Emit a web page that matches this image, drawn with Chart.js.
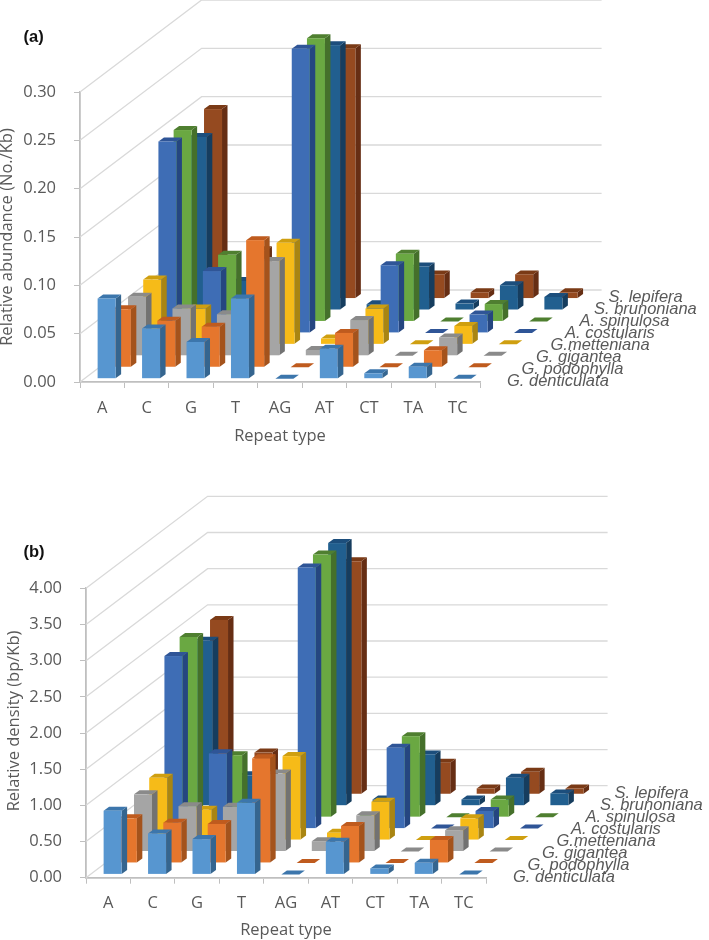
<!DOCTYPE html>
<html>
<head>
<meta charset="utf-8">
<script src="https://cdn.jsdelivr.net/npm/chart.js@4/dist/chart.umd.js"></script>
<style>
html,body{margin:0;padding:0;background:#fff;}
canvas{display:block;}
</style>
</head>
<body>
<canvas id="chartA" width="709" height="470"></canvas>
<canvas id="chartB" width="709" height="470"></canvas>
<script>
// ---------- Data ----------
const categories = ['A','C','G','T','AG','AT','CT','TA','TC'];
const seriesNames = ['G. denticulata','G. podophylla','G. gigantea','G.metteniana','A. costularis','A. spinulosa','S. brunoniana','S. lepifera'];

// (a) Relative abundance (No./Kb)
const abundDenticulata = [0.083,0.052,0.038,0.083,0,0.031,0.0056,0.0124,0];
const abundPodophylla  = [0.060,0.048,0.042,0.1315,0,0.0355,0,0.0176,0];
const abundGigantea    = [0.061,0.049,0.043,0.098,0.006,0.037,0,0.019,0];
const abundMetteniana  = [0.067,0.037,0.030,0.105,0.006,0.037,0,0.019,0];
const abundCostularis  = [0.198,0.064,0.045,0.294,0,0.070,0,0.019,0];
const abundSpinulosa   = [0.198,0.069,0.050,0.293,0,0.070,0,0.018,0];
const abundBrunoniana  = [0.179,0.030,0.040,0.274,0.006,0.045,0.0066,0.0256,0.0135];
const abundLepifera    = [0.196,0.050,0.040,0.259,0,0.025,0.0065,0.025,0.0065];

// (b) Relative density (bp/Kb)
const densDenticulata = [0.88,0.566,0.488,0.99,0,0.45,0.083,0.16,0];
const densPodophylla  = [0.617,0.557,0.539,1.446,0,0.511,0,0.318,0];
const densGigantea    = [0.79,0.626,0.617,1.077,0.143,0.50,0,0.295,0];
const densMetteniana  = [0.86,0.42,0.45,1.16,0.10,0.53,0,0.30,0];
const densCostularis  = [2.385,1.04,0.45,3.61,0,1.119,0,0.244,0];
const densSpinulosa   = [2.49,0.856,0.40,3.63,0,1.119,0,0.244,0];
const densBrunoniana  = [2.28,0.42,0.40,3.63,0.087,0.709,0.087,0.387,0.17];
const densLepifera    = [2.41,0.576,0.40,3.22,0,0.437,0.08,0.31,0.08];

// ---------- Styles ----------
const frontColors = ['#5796D0','#E5762D','#A5A5A5','#F6BB18','#3E6DB5','#6AA842','#215F8F','#954A20'];
const topColors   = ['#3C76AC','#BF5B1E','#8A8A8A','#CF9F10','#2F5597','#4F7F30','#1C4E7C','#7A3A16'];
const sideColors  = ['#35658F','#A4531C','#727272','#A98512','#254680','#45702B','#163D5E','#662E14'];

const ROW_DX = 15.2, ROW_DY = 11.45;     // shift per depth row
const LIP_DX = 4.4, LIP_DY = 3.3;        // gap from the front of the row slot
const BAR_W = 18, BAR_DX = 5.5, BAR_DY = 4;
const WALL_DX = 121.6, WALL_DY = 92;
const GRID = '#D9D9D9', AXIS = '#BFBFBF', TEXT = '#595959';
const FONT = '"Open Sans", sans-serif';

const bars3d = {
  id: 'bars3d',
  beforeDatasetsDraw(chart) {
    const {ctx, chartArea: area, scales: {y: yS}} = chart;
    const o = chart.options.plugins.bars3d;

    // walls: left-wall diagonals + back-wall lines for every y tick
    ctx.save();
    ctx.strokeStyle = GRID;
    ctx.lineWidth = 1.3;
    yS.ticks.forEach(t => {
      const py = yS.getPixelForValue(t.value);
      ctx.beginPath();
      ctx.moveTo(area.left, py);
      ctx.lineTo(area.left + WALL_DX, py - WALL_DY);
      ctx.lineTo(area.right + WALL_DX, py - WALL_DY);
      ctx.stroke();
    });
    ctx.restore();

    // bars: back row first
    const n = chart.data.datasets.length;
    for (let d = n - 1; d >= 0; d--) {
      const meta = chart.getDatasetMeta(d);
      const sx = LIP_DX + d * ROW_DX, sy = LIP_DY + d * ROW_DY;
      for (let i = meta.data.length - 1; i >= 0; i--) {
        const el = meta.data[i];
        const x0 = el.x - BAR_W / 2 + sx, x1 = x0 + BAR_W;
        const top = el.y - sy, base = el.base - sy;
        ctx.fillStyle = sideColors[d];
        ctx.beginPath();
        ctx.moveTo(x1, base); ctx.lineTo(x1 + BAR_DX, base - BAR_DY);
        ctx.lineTo(x1 + BAR_DX, top - BAR_DY); ctx.lineTo(x1, top);
        ctx.closePath(); ctx.fill();
        ctx.fillStyle = topColors[d];
        ctx.beginPath();
        ctx.moveTo(x0, top); ctx.lineTo(x1, top);
        ctx.lineTo(x1 + BAR_DX, top - BAR_DY); ctx.lineTo(x0 + BAR_DX, top - BAR_DY);
        ctx.closePath(); ctx.fill();
        if (base - top > 0.2) {
          ctx.fillStyle = frontColors[d];
          ctx.fillRect(x0, top, BAR_W, base - top);
        }
      }
    }

    // depth-axis labels
    ctx.save();
    ctx.fillStyle = TEXT;
    ctx.font = 'italic 16.5px "Liberation Sans", sans-serif';
    ctx.textAlign = 'left';
    ctx.textBaseline = 'alphabetic';
    chart.data.datasets.forEach((ds, d) => {
      ctx.fillText(ds.label, area.right + 27 + d * 14.5, area.bottom + 3.8 - d * 12);
    });
    // panel letter
    ctx.fillStyle = '#111';
    ctx.font = 'bold 16.5px "Liberation Sans", sans-serif';
    ctx.textBaseline = 'middle';
    ctx.fillText(o.panel, 23.5, o.panelY);
    // y-axis title
    ctx.translate(o.yTitleX, o.yTitleY);
    ctx.rotate(-Math.PI / 2);
    ctx.fillStyle = TEXT;
    ctx.font = '16.5px ' + FONT;
    ctx.textAlign = 'center';
    ctx.fillText(o.yTitle, 0, 0);
    ctx.restore();
    return false;
  }
};

function makeChart(id, series, cfg) {
  return new Chart(document.getElementById(id), {
    type: 'bar',
    plugins: [bars3d],
    data: {
      labels: categories,
      datasets: series.map((values, k) => ({
        label: seriesNames[k], data: values, backgroundColor: frontColors[k]
      }))
    },
    options: {
      responsive: false,
      animation: false,
      layout: {autoPadding: false, padding: {top: cfg.top, right: 709 - cfg.right, left: 0, bottom: 0}},
      datasets: {bar: {grouped: false, barThickness: BAR_W}},
      plugins: {
        legend: {display: false},
        tooltip: {enabled: false},
        bars3d: {panel: cfg.panel, panelY: cfg.panelY, yTitle: cfg.yTitle, yTitleX: cfg.yTitleX, yTitleY: cfg.yTitleY}
      },
      scales: {
        x: {
          type: 'category',
          offset: true,
          afterFit(s) { s.height = 470 - cfg.bottom; },
          grid: {offset: true, drawOnChartArea: false, drawTicks: true, tickLength: 6, color: AXIS, lineWidth: 1},
          border: {color: AXIS, width: 1.8},
          ticks: {color: TEXT, font: {family: FONT, size: 16.5}, padding: 10, maxRotation: 0, autoSkip: false},
          title: {display: true, text: 'Repeat type', color: TEXT, font: {family: FONT, size: 16.5}, padding: {top: 0, bottom: cfg.xTitleBottom}}
        },
        y: {
          type: 'linear',
          min: 0,
          max: cfg.max,
          afterFit(s) { s.width = cfg.left; },
          afterBuildTicks(s) { s.ticks = cfg.ticks.map(v => ({value: v})); },
          grid: {drawOnChartArea: false, tickLength: 6, color: AXIS, lineWidth: 1},
          border: {color: AXIS, width: 1.8},
          ticks: {color: TEXT, font: {family: FONT, size: 16.5}, padding: 18, callback: v => v.toFixed(2)}
        }
      }
    }
  });
}

const abundanceTicks = [0,0.05,0.10,0.15,0.20,0.25,0.30];
const densityTicks = [0,0.5,1,1.5,2,2.5,3,3.5,4];

makeChart('chartA',
  [abundDenticulata,abundPodophylla,abundGigantea,abundMetteniana,abundCostularis,abundSpinulosa,abundBrunoniana,abundLepifera],
  {top: 92, bottom: 382, left: 80, right: 480, max: 0.30, ticks: abundanceTicks,
   yTitle: 'Relative abundance (No./Kb)', yTitleX: 7.5, yTitleY: 237, xTitleBottom: 24, panel: '(a)', panelY: 37});

makeChart('chartB',
  [densDenticulata,densPodophylla,densGigantea,densMetteniana,densCostularis,densSpinulosa,densBrunoniana,densLepifera],
  {top: 118.3, bottom: 407.7, left: 86, right: 486, max: 4, ticks: densityTicks,
   yTitle: 'Relative density (bp/Kb)', yTitleX: 14, yTitleY: 251, xTitleBottom: 0, panel: '(b)', panelY: 82});
</script>
</body>
</html>
